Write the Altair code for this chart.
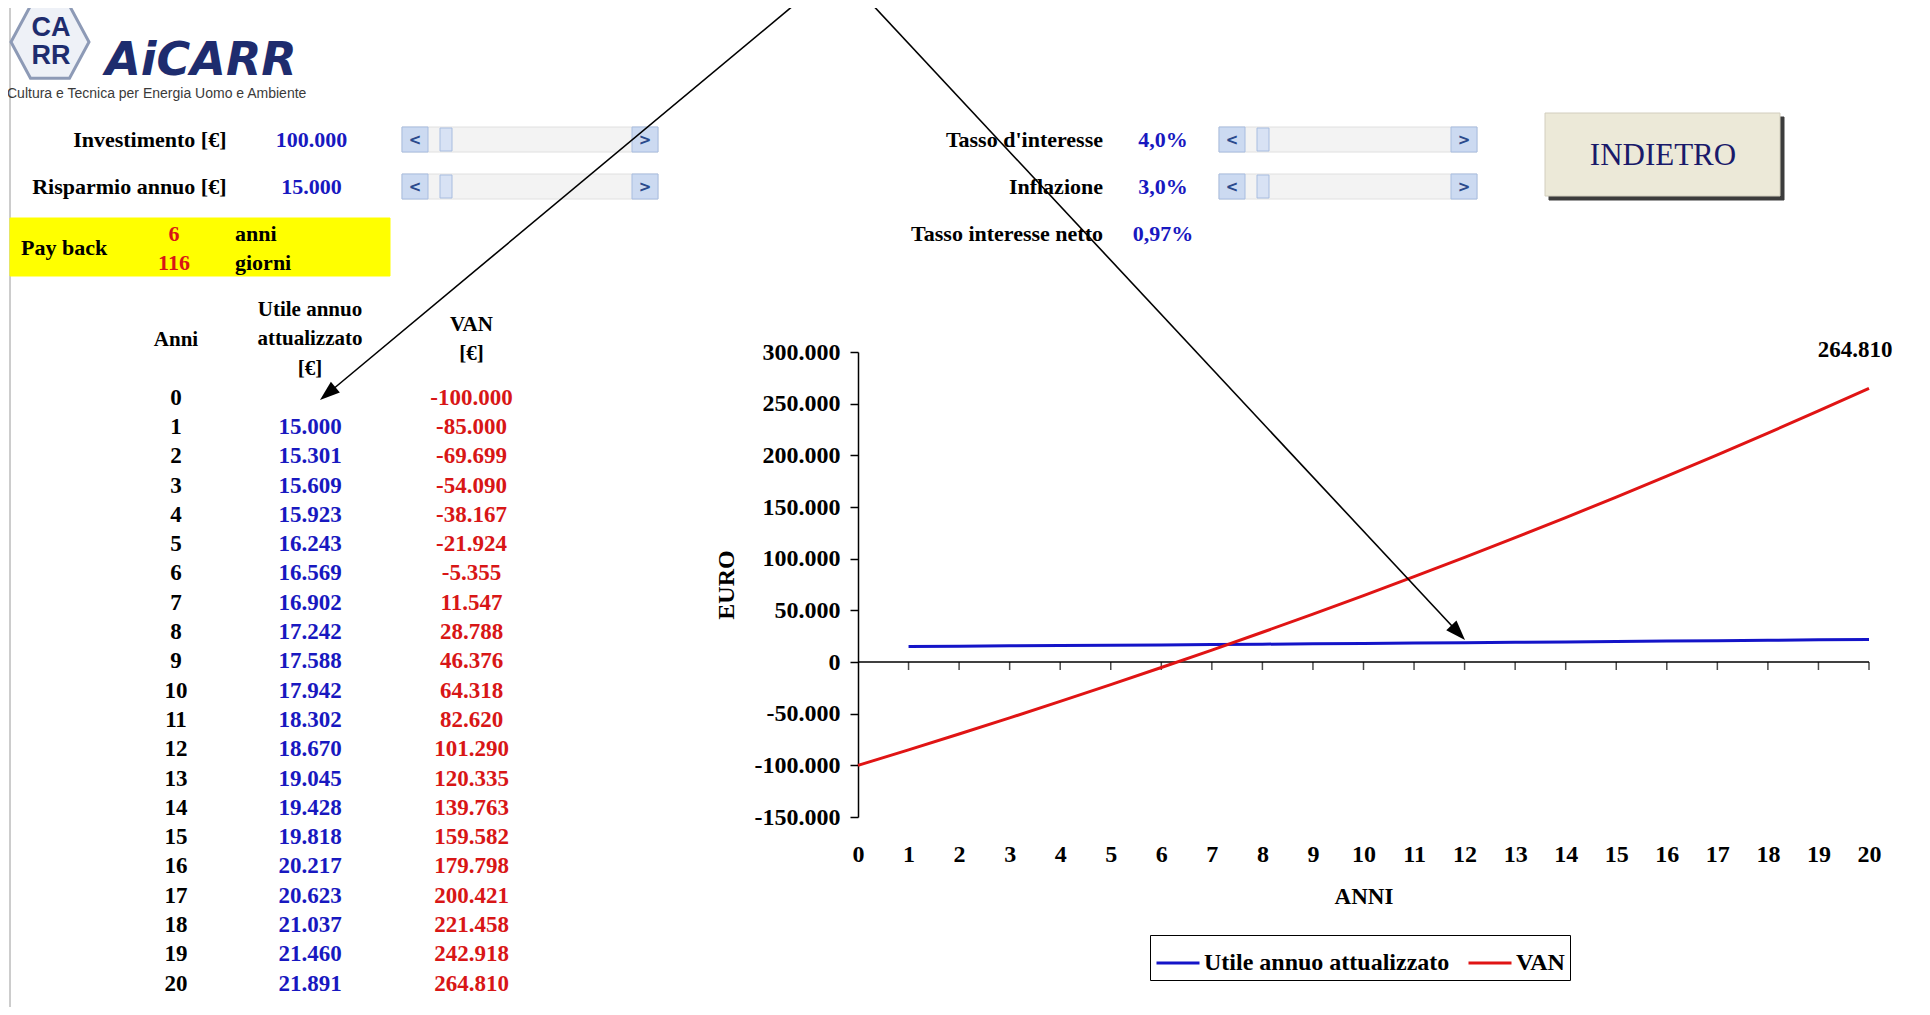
import math
import altair as alt
import pandas as pd

# ---------------- data ----------------
anni = list(range(21))
utile = [None, 15000, 15301, 15609, 15923, 16243, 16569, 16902, 17242, 17588,
         17942, 18302, 18670, 19045, 19428, 19818, 20217, 20623, 21037, 21460, 21891]
van = [-100000, -85000, -69699, -54090, -38167, -21924, -5355, 11547, 28788, 46376,
       64318, 82620, 101290, 120335, 139763, 159582, 179798, 200421, 221458, 242918, 264810]
serie = ["Utile annuo attualizzato", "VAN"]
y_ticks = [-150000, -100000, -50000, 0, 50000, 100000, 150000, 200000, 250000, 300000]

left_labels = ["Investimento [€]", "Risparmio annuo [€]"]
left_values = ["100.000", "15.000"]
right_labels = ["Tasso d'interesse", "Inflazione", "Tasso interesse netto"]
right_values = ["4,0%", "3,0%", "0,97%"]
payback_numbers = ["6", "116"]
payback_units = ["anni", "giorni"]
table_headers = ["Anni", "Utile annuo\nattualizzato\n[€]", "VAN\n[€]"]

# ---------------- layout / style ----------------
W, H = 1914, 999
SERIF = "Liberation Serif"
SANS = "Liberation Sans"
BLUE_TXT = "#1818C0"
RED_TXT = "#D81616"
LINE_BLUE = "#1414C8"
LINE_RED = "#E01414"
NAVY = "#1E2C6E"


def vx(x):
    return x - 8


def vy(y):
    return y - 8


PX = alt.Scale(domain=[0, 1930], range=[-8, 1922], nice=False, zero=False)
PY = alt.Scale(domain=[0, 1015], range=[-8, 1007], nice=False, zero=False)


def it_num(expr):
    return f"replace(replace(format({expr}, ','), ',', '.'), '\u2212', '-')"


layers = []

# ---- spreadsheet frame lines ----
frame = pd.DataFrame({"x1": [10, 10], "y1": [4, 4], "x2": [1930, 10], "y2": [4, 1015]})
layers.append(
    alt.Chart(frame).mark_rule(color="#9A9A9A", strokeWidth=1).encode(
        x=alt.X("x1:Q", scale=PX, axis=None), x2="x2:Q",
        y=alt.Y("y1:Q", scale=PY, axis=None), y2="y2:Q")
)

# ---- decoration rectangles (payback box, button, scrollbars) ----
rect_rows = []


def rect(x1, y1, x2, y2, fill, stroke=None):
    rect_rows.append(dict(x1=x1, y1=y1, x2=x2, y2=y2, fill=fill, stroke=stroke or fill))


rect(10, 218, 390, 276, "#FFFF00")
rect(1549, 117, 1784, 200, "#3C3C3C")
rect(1545, 113, 1780, 196, "#ECE9D8", "#D2CEBE")
chev_rows = []
for (xa, xb, ya, yb) in [(402, 658, 127, 152), (402, 658, 174, 199),
                         (1219, 1477, 127, 152), (1219, 1477, 174, 199)]:
    rect(xa, ya, xb, yb, "#F3F3F3", "#E0E0E0")
    rect(xa, ya, xa + 26, yb, "#CCDAF1", "#A8BDE0")
    rect(xb - 26, ya, xb, yb, "#CCDAF1", "#A8BDE0")
    rect(xa + 38, ya + 1, xa + 50, yb - 1, "#D8E2F4", "#A8BDE0")
    chev_rows.append(dict(x=xa + 13, y=(ya + yb) / 2, t="<"))
    chev_rows.append(dict(x=xb - 13, y=(ya + yb) / 2, t=">"))

layers.append(
    alt.Chart(pd.DataFrame(rect_rows)).mark_rect(strokeWidth=1).encode(
        x=alt.X("x1:Q", scale=PX, axis=None), x2="x2:Q",
        y=alt.Y("y1:Q", scale=PY, axis=None), y2="y2:Q",
        fill=alt.Fill("fill:N", scale=None),
        stroke=alt.Stroke("stroke:N", scale=None))
)
layers.append(
    alt.Chart(pd.DataFrame(chev_rows)).mark_text(
        font="DejaVu Sans", fontSize=15, fontWeight="bold", color="#2A4A8C",
        baseline="middle", align="center").encode(
        x=alt.X("x:Q", scale=PX, axis=None), y=alt.Y("y:Q", scale=PY, axis=None), text="t:N")
)

# ---- logo ----
HEX = "M-1,0L-0.5,-0.93L0.5,-0.93L1,0L0.5,0.93L-0.5,0.93Z"
layers.append(
    alt.Chart(pd.DataFrame({"k": [0]})).mark_point(
        shape=HEX, size=6084, filled=False, stroke="#8D9AB6", strokeWidth=3,
        fill="#EEF1F7", fillOpacity=1).encode(x=alt.value(vx(50)), y=alt.value(vy(42)))
)
layers.append(
    alt.Chart(pd.DataFrame({"t": ["CA\nRR"]})).mark_text(
        font=SANS, fontSize=27, fontWeight="bold", color=NAVY, lineBreak="\n",
        lineHeight=28, align="center", baseline="middle").encode(
        x=alt.value(vx(51)), y=alt.value(vy(28)), text="t:N")
)
layers.append(
    alt.Chart(pd.DataFrame({"t": ["AiCARR"]})).mark_text(
        font="DejaVu Sans", fontSize=46, fontWeight="bold", fontStyle="italic",
        color=NAVY, align="center", baseline="middle").encode(
        x=alt.value(vx(201)), y=alt.value(vy(61)), text="t:N")
)
layers.append(
    alt.Chart(pd.DataFrame({"t": ["Cultura e Tecnica per Energia Uomo e Ambiente"]})).mark_text(
        font=SANS, fontSize=14, color="#3A3A3A", align="left", baseline="middle").encode(
        x=alt.value(vx(7)), y=alt.value(vy(94)), text="t:N")
)

# ---- form fields ----
FORM_Y = alt.Scale(domain=[0, 2], range=[vy(140.3), vy(233.9)], nice=False, zero=False)
form_left = pd.DataFrame({"r": [0, 1], "label": left_labels, "value": left_values})
form_right = pd.DataFrame({"r": [0, 1, 2], "label": right_labels, "value": right_values})
for df, lx, vxp in [(form_left, 226.5, 311.4), (form_right, 1103, 1163)]:
    layers.append(
        alt.Chart(df).mark_text(font=SERIF, fontSize=22, fontWeight="bold", color="black",
                                align="right", baseline="middle").encode(
            x=alt.value(vx(lx)), y=alt.Y("r:Q", scale=FORM_Y, axis=None), text="label:N")
    )
    layers.append(
        alt.Chart(df).mark_text(font=SERIF, fontSize=22, fontWeight="bold", color=BLUE_TXT,
                                align="center", baseline="middle").encode(
            x=alt.value(vx(vxp)), y=alt.Y("r:Q", scale=FORM_Y, axis=None), text="value:N")
    )

# INDIETRO button text
layers.append(
    alt.Chart(pd.DataFrame({"t": ["INDIETRO"]})).mark_text(
        font=SERIF, fontSize=31, color="#1A1A6A", align="center", baseline="middle").encode(
        x=alt.value(vx(1663)), y=alt.value(vy(156)), text="t:N")
)

# ---- payback box ----
PB_Y = alt.Scale(domain=[0, 1], range=[vy(233.9), vy(262.5)], nice=False, zero=False)
pb = pd.DataFrame({"r": [0, 1], "n": payback_numbers, "u": payback_units})
layers.append(
    alt.Chart(pd.DataFrame({"t": ["Pay back"]})).mark_text(
        font=SERIF, fontSize=22, fontWeight="bold", color="black", align="left",
        baseline="middle").encode(x=alt.value(vx(21)), y=alt.value(vy(248)), text="t:N")
)
layers.append(
    alt.Chart(pb).mark_text(font=SERIF, fontSize=22, fontWeight="bold", color=RED_TXT,
                            align="center", baseline="middle").encode(
        x=alt.value(vx(174)), y=alt.Y("r:Q", scale=PB_Y, axis=None), text="n:N")
)
layers.append(
    alt.Chart(pb).mark_text(font=SERIF, fontSize=22, fontWeight="bold", color="black",
                            align="left", baseline="middle").encode(
        x=alt.value(vx(235)), y=alt.Y("r:Q", scale=PB_Y, axis=None), text="u:N")
)

# ---- table ----
col_x = [176, 310, 471.5]
HEADER_MID = 339.5
LINE_H = 29.6
for hx, h in zip(col_x, table_headers):
    n_lines = h.count("\n") + 1
    first_y = HEADER_MID - (n_lines - 1) * LINE_H / 2
    layers.append(
        alt.Chart(pd.DataFrame({"t": [h]})).mark_text(
            font=SERIF, fontSize=21, fontWeight="bold", color="black", lineBreak="\n",
            lineHeight=LINE_H, align="center", baseline="middle").encode(
            x=alt.value(vx(hx)), y=alt.value(vy(first_y)), text="t:N")
    )

ROWS = alt.Scale(domain=[0, 20], range=[vy(397.6), vy(983.6)], nice=False, zero=False)
tab = pd.DataFrame({"row": anni, "utile": utile, "van": van})
layers.append(
    alt.Chart(tab).transform_calculate(t="format(datum.row, 'd')").mark_text(
        font=SERIF, fontSize=23, fontWeight="bold", color="black",
        align="center", baseline="middle").encode(
        x=alt.value(vx(col_x[0])), y=alt.Y("row:Q", scale=ROWS, axis=None), text="t:N")
)
layers.append(
    alt.Chart(tab).transform_filter("isValid(datum.utile)").transform_calculate(
        t=it_num("datum.utile")).mark_text(
        font=SERIF, fontSize=23, fontWeight="bold", color=BLUE_TXT,
        align="center", baseline="middle").encode(
        x=alt.value(vx(col_x[1])), y=alt.Y("row:Q", scale=ROWS, axis=None), text="t:N")
)
layers.append(
    alt.Chart(tab).transform_calculate(t=it_num("datum.van")).mark_text(
        font=SERIF, fontSize=23, fontWeight="bold", color=RED_TXT,
        align="center", baseline="middle").encode(
        x=alt.value(vx(col_x[2])), y=alt.Y("row:Q", scale=ROWS, axis=None), text="t:N")
)

# ---- line chart ----
XS = alt.Scale(domain=[0, 20], range=[vx(858), vx(1869)], nice=False, zero=False)
YS = alt.Scale(domain=[-150000, 300000], range=[vy(817), vy(352)], nice=False, zero=False)

line_rows = []
for a, u in zip(anni, utile):
    if u is not None:
        line_rows.append({"anno": a, "euro": u, "serie": serie[0]})
for a, v in zip(anni, van):
    line_rows.append({"anno": a, "euro": v, "serie": serie[1]})
df_lines = pd.DataFrame(line_rows)

x_axis = alt.Axis(values=anni, format="d", offset=-175, domain=False, ticks=False, tickSize=0,
                  grid=False, labelFont=SERIF, labelFontSize=24, labelFontWeight="bold",
                  labelColor="black", labelPadding=10, labelOverlap=False, labelFlush=False,
                  title="ANNI", titleFont=SERIF, titleFontSize=23, titleFontWeight="bold",
                  titleColor="black", titlePadding=19)
y_axis = alt.Axis(values=y_ticks, labelExpr=it_num("datum.value"), offset=-vx(858),
                  domainColor="black", domainWidth=1.5, tickColor="black", tickWidth=1.5,
                  tickSize=8, grid=False, labelFont=SERIF, labelFontSize=24,
                  labelFontWeight="bold", labelColor="black", labelPadding=10,
                  title="EURO", titleFont=SERIF, titleFontSize=24, titleFontWeight="bold",
                  titleColor="black", titlePadding=16)
legend = alt.Legend(orient="none", legendX=vx(1150), legendY=vy(935), direction="horizontal",
                    title=None, symbolType="stroke", symbolStrokeWidth=3, symbolSize=1849,
                    labelFont=SERIF, labelFontSize=24, labelFontWeight="bold",
                    labelColor="black", labelLimit=500, strokeColor="black",
                    fillColor="white", padding=5, columnPadding=12, labelOffset=3)

layers.append(
    alt.Chart(pd.DataFrame({"a0": [0], "a1": [20], "z": [0]})).mark_rule(
        color="black", strokeWidth=1.5).encode(
        x=alt.X("a0:Q", scale=XS, axis=None), x2="a1:Q",
        y=alt.Y("z:Q", scale=YS, axis=None))
)
layers.append(
    alt.Chart(pd.DataFrame({"anno": anni[1:]})).transform_calculate(z="0").mark_tick(
        orient="vertical", size=8, thickness=1.5, color="black", yOffset=4).encode(
        x=alt.X("anno:Q", scale=XS, axis=None), y=alt.Y("z:Q", scale=YS, axis=None))
)
layers.append(
    alt.Chart(df_lines).mark_line(strokeWidth=3).encode(
        x=alt.X("anno:Q", scale=XS, axis=x_axis),
        y=alt.Y("euro:Q", scale=YS, axis=y_axis),
        color=alt.Color("serie:N", scale=alt.Scale(domain=serie, range=[LINE_BLUE, LINE_RED]),
                        legend=legend))
)
layers.append(
    alt.Chart(pd.DataFrame({"anno": [anni[-1]], "euro": [van[-1]]})).transform_calculate(
        t=it_num("datum.euro")).mark_text(
        font=SERIF, fontSize=23, fontWeight="bold", color="black", dx=-14, dy=-38,
        align="center", baseline="middle").encode(
        x=alt.X("anno:Q", scale=XS, axis=None), y=alt.Y("euro:Q", scale=YS, axis=None),
        text="t:N")
)

# ---- annotation arrows (screenshot pixel coordinates) ----
arrow_start_x = [800, 868]
arrow_start_y = [0, 0]
arrow_tip_x = [320, 1465]
arrow_tip_y = [400, 640]
HEAD = 20
arr_rows = []
for x0, y0, x1, y1 in zip(arrow_start_x, arrow_start_y, arrow_tip_x, arrow_tip_y):
    dx, dy = x1 - x0, y1 - y0
    L = math.hypot(dx, dy)
    ux, uy = dx / L, dy / L
    arr_rows.append(dict(x0=x0, y0=y0, x1=x1 - ux * HEAD * 0.8, y1=y1 - uy * HEAD * 0.8,
                         hx=x1 - ux * HEAD / 2, hy=y1 - uy * HEAD / 2,
                         ang=math.degrees(math.atan2(ux, -uy)) % 360))
arr = pd.DataFrame(arr_rows)
layers.append(
    alt.Chart(arr).mark_rule(color="black", strokeWidth=1.6).encode(
        x=alt.X("x0:Q", scale=PX, axis=None), x2="x1:Q",
        y=alt.Y("y0:Q", scale=PY, axis=None), y2="y1:Q")
)
layers.append(
    alt.Chart(arr).mark_point(shape="M0,-1L-0.7,1L0.7,1Z", filled=True, color="black",
                              size=HEAD * HEAD, opacity=1).encode(
        x=alt.X("hx:Q", scale=PX, axis=None), y=alt.Y("hy:Q", scale=PY, axis=None),
        angle=alt.Angle("ang:Q", scale=None))
)

chart = alt.layer(*layers).resolve_scale(
    x="independent", y="independent", color="independent"
).properties(
    width=W, height=H, autosize=alt.AutoSizeParams(type="none"), padding=0,
    background="white"
).configure_view(stroke=None)

chart.save("out.html", embed_options={"renderer": "svg", "actions": False})
